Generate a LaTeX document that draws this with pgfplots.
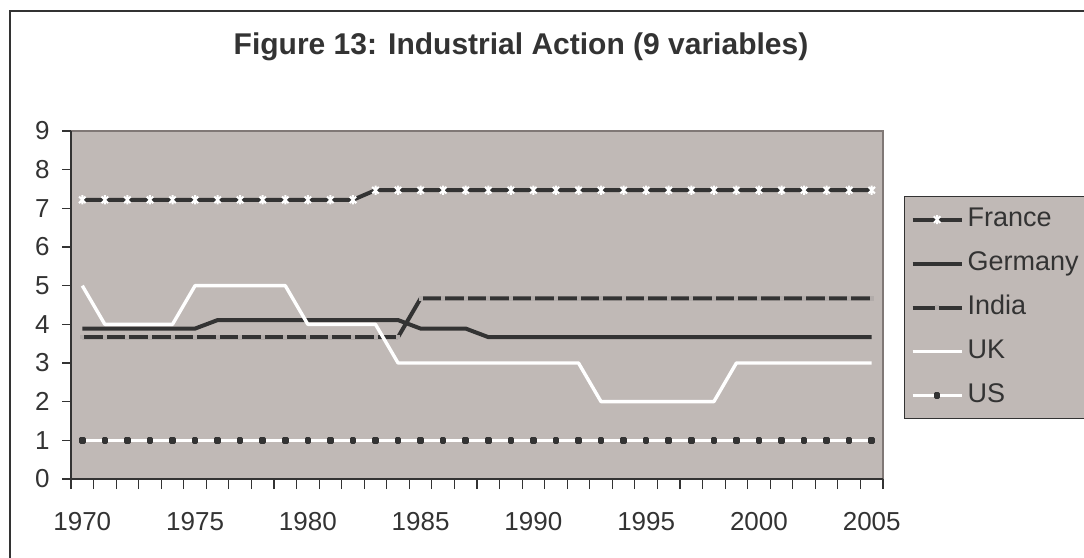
\documentclass[border=0pt]{standalone}
\usepackage{fontspec}
\setmainfont{Liberation Sans}
\usepackage{pgfplots}
\usepackage{pgfplotstable}
\pgfplotsset{compat=1.18}

\definecolor{plotbg}{RGB}{192,185,182}
\definecolor{ink}{RGB}{51,51,51}
\definecolor{frame}{RGB}{128,120,118}
\definecolor{dashgap}{RGB}{178,172,170}

% Excel-style star: an x with a vertical bar
\pgfdeclareplotmark{xstar}{%
  \pgfpathmoveto{\pgfqpoint{-.707\pgfplotmarksize}{-.707\pgfplotmarksize}}%
  \pgfpathlineto{\pgfqpoint{.707\pgfplotmarksize}{.707\pgfplotmarksize}}%
  \pgfpathmoveto{\pgfqpoint{-.707\pgfplotmarksize}{.707\pgfplotmarksize}}%
  \pgfpathlineto{\pgfqpoint{.707\pgfplotmarksize}{-.707\pgfplotmarksize}}%
  \pgfpathmoveto{\pgfqpoint{0pt}{-\pgfplotmarksize}}%
  \pgfpathlineto{\pgfqpoint{0pt}{\pgfplotmarksize}}%
  \pgfusepathqstroke}

\pgfplotstableread{
year France Germany India UK US
1970 7.22 3.89 3.67 5 1
1971 7.22 3.89 3.67 4 1
1972 7.22 3.89 3.67 4 1
1973 7.22 3.89 3.67 4 1
1974 7.22 3.89 3.67 4 1
1975 7.22 3.89 3.67 5 1
1976 7.22 4.11 3.67 5 1
1977 7.22 4.11 3.67 5 1
1978 7.22 4.11 3.67 5 1
1979 7.22 4.11 3.67 5 1
1980 7.22 4.11 3.67 4 1
1981 7.22 4.11 3.67 4 1
1982 7.22 4.11 3.67 4 1
1983 7.47 4.11 3.67 4 1
1984 7.47 4.11 3.67 3 1
1985 7.47 3.89 4.67 3 1
1986 7.47 3.89 4.67 3 1
1987 7.47 3.89 4.67 3 1
1988 7.47 3.67 4.67 3 1
1989 7.47 3.67 4.67 3 1
1990 7.47 3.67 4.67 3 1
1991 7.47 3.67 4.67 3 1
1992 7.47 3.67 4.67 3 1
1993 7.47 3.67 4.67 2 1
1994 7.47 3.67 4.67 2 1
1995 7.47 3.67 4.67 2 1
1996 7.47 3.67 4.67 2 1
1997 7.47 3.67 4.67 2 1
1998 7.47 3.67 4.67 2 1
1999 7.47 3.67 4.67 3 1
2000 7.47 3.67 4.67 3 1
2001 7.47 3.67 4.67 3 1
2002 7.47 3.67 4.67 3 1
2003 7.47 3.67 4.67 3 1
2004 7.47 3.67 4.67 3 1
2005 7.47 3.67 4.67 3 1
}\data

\begin{document}
\begin{tikzpicture}
% outer chart frame (right and bottom sides fall outside the picture)
\draw[ink, line width=0.6pt] (-30.5pt,-60pt) -- (-30.5pt,234pt) -- (540pt,234pt);
\begin{axis}[
    at={(0,0)}, anchor=south west,
    scale only axis,
    width=406pt, height=174pt,
    xmin=1969.5, xmax=2005.5,
    ymin=0, ymax=9,
    axis lines=left,
    axis line style={-, draw=ink, line width=1pt},
    axis background/.style={fill=plotbg, draw=frame, line width=0.6pt},
    xtick={1970,1975,...,2005},
    minor xtick={1969.5,1970.5,...,2005.5},
    ytick={0,1,...,9},
    tick align=outside,
    major tick length=4.5pt,
    minor tick length=5pt,
    tick style={draw=ink, line width=0.6pt},
    major x tick style={draw=none},
    /pgf/number format/assume math mode=true,
    /pgf/number format/1000 sep={},
    ticklabel style={font=\fontsize{13}{15}\selectfont, text=ink},
    xticklabel style={yshift=-8.5pt},
    yticklabel style={xshift=-2.7pt},
    title={Figure 13: Industrial Action (9 variables)},
    title style={at={(axis description cs:0.5542,1.184)}, anchor=base,
        font=\bfseries\fontsize{15}{18}\selectfont, text=ink},
    legend style={at={(axis description cs:1.0259,0.8132)}, anchor=north west,
        fill=plotbg, draw=ink, line width=0.6pt,
        font=\fontsize{13.5}{15}\selectfont, text=ink,
        inner sep=3pt, row sep=5pt,
        nodes={text height=10pt, text depth=3pt, inner sep=2pt,
            text width=62pt}},
    legend cell align=left,
    legend image code/.code={\draw[mark repeat=2,mark phase=2,#1]
        plot coordinates {(0pt,0pt) (12.25pt,0pt) (24.5pt,0pt)};},
    every axis plot/.append style={line join=round},
]
\addplot[ink, line width=2pt, mark=xstar, mark size=2.3pt,
    mark options={white, line width=1pt}] table[x=year, y=France] {\data};
\addlegendentry{France}
\addplot[ink, line width=2pt] table[x=year, y=Germany] {\data};
\addlegendentry{Germany}
\addplot[ink, line width=2pt, mark=-, mark size=1pt,
    mark options={dashgap, line width=2.3pt}] table[x=year, y=India] {\data};
\addlegendentry{India}
\addplot[white, line width=1.7pt] table[x=year, y=UK] {\data};
\addlegendentry{UK}
\addplot[white, line width=1.5pt, mark=square*, mark size=0.9pt,
    mark options={ink}] table[x=year, y=US] {\data};
\addlegendentry{US}
\end{axis}
\pgfresetboundingbox
\useasboundingbox (-35.5pt,-39.5pt) rectangle (506.5pt,239.5pt);
\end{tikzpicture}
\end{document}
